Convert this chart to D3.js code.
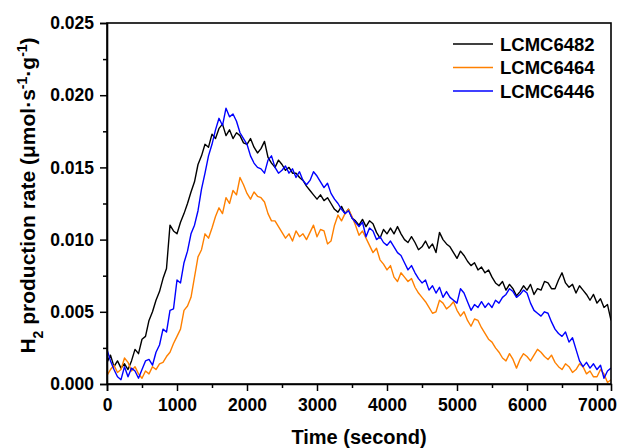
<!DOCTYPE html>
<html>
<head>
<meta charset="utf-8">
<script src="https://cdn.jsdelivr.net/npm/d3@7"></script>
<style>
  body { margin: 0; background: #fff; }
  text { font-family: "Liberation Sans", Arial, sans-serif; font-weight: bold; fill: #000; }
</style>
</head>
<body>
<div id="chart"></div>
<script>
/* sample times (s), one reading every 50 s */
const times = d3.range(0, 7201, 50);

const seriesNames = ["LCMC6482", "LCMC6464", "LCMC6446"];
const seriesColors = ["#000000", "#ff8000", "#0000ff"];

const lcmc6482 = [
  0.0015, 0.0020, 0.0012, 0.0016, 0.0011, 0.0014, 0.0010, 0.0016, 0.0024, 0.0021,
  0.0031, 0.0033, 0.0044, 0.0050, 0.0058, 0.0064, 0.0073, 0.0080, 0.0110, 0.0106,
  0.0104, 0.0112, 0.0118, 0.0125, 0.0133, 0.0140, 0.0152, 0.0158, 0.0166, 0.0164,
  0.0173, 0.0170, 0.0177, 0.0180, 0.0172, 0.0176, 0.0170, 0.0174, 0.0172, 0.0167,
  0.0166, 0.0170, 0.0164, 0.0160, 0.0163, 0.0168, 0.0157, 0.0153, 0.0150, 0.0155,
  0.0152, 0.0148, 0.0150, 0.0146, 0.0146, 0.0143, 0.0141, 0.0137, 0.0134, 0.0131,
  0.0128, 0.0131, 0.0127, 0.0129, 0.0125, 0.0121, 0.0119, 0.0123, 0.0118, 0.0121,
  0.0115, 0.0113, 0.0110, 0.0114, 0.0109, 0.0113, 0.0111, 0.0105, 0.0101, 0.0107,
  0.0104, 0.0108, 0.0104, 0.0109, 0.0104, 0.0100, 0.0098, 0.0102, 0.0098, 0.0093,
  0.0095, 0.0099, 0.0094, 0.0097, 0.0091, 0.0105, 0.0100, 0.0097, 0.0095, 0.0091,
  0.0087, 0.0092, 0.0089, 0.0085, 0.0082, 0.0084, 0.0079, 0.0081, 0.0077, 0.0079,
  0.0074, 0.0070, 0.0068, 0.0071, 0.0065, 0.0069, 0.0066, 0.0061, 0.0064, 0.0068,
  0.0065, 0.0069, 0.0062, 0.0066, 0.0065, 0.0071, 0.0070, 0.0066, 0.0066, 0.0072,
  0.0077, 0.0070, 0.0067, 0.0069, 0.0063, 0.0068, 0.0065, 0.0062, 0.0058, 0.0062,
  0.0056, 0.0059, 0.0053, 0.0055, 0.0044
];

const lcmc6464 = [
  0.0006, 0.0010, 0.0013, 0.0008, 0.0010, 0.0018, 0.0015, 0.0009, 0.0012, 0.0007,
  0.0004, 0.0009, 0.0007, 0.0012, 0.0010, 0.0014, 0.0015, 0.0019, 0.0022, 0.0028,
  0.0033, 0.0038, 0.0051, 0.0054, 0.0060, 0.0074, 0.0088, 0.0093, 0.0104, 0.0101,
  0.0108, 0.0116, 0.0122, 0.0118, 0.0129, 0.0125, 0.0134, 0.0131, 0.0143, 0.0138,
  0.0132, 0.0128, 0.0133, 0.0130, 0.0129, 0.0126, 0.0118, 0.0113, 0.0113, 0.0109,
  0.0105, 0.0101, 0.0104, 0.0099, 0.0106, 0.0102, 0.0104, 0.0100, 0.0105, 0.0110,
  0.0102, 0.0107, 0.0106, 0.0097, 0.0099, 0.0110, 0.0117, 0.0113, 0.0118, 0.0121,
  0.0116, 0.0110, 0.0103, 0.0106, 0.0101, 0.0096, 0.0091, 0.0094, 0.0086, 0.0083,
  0.0079, 0.0082, 0.0074, 0.0071, 0.0077, 0.0074, 0.0071, 0.0073, 0.0067, 0.0063,
  0.0060, 0.0057, 0.0053, 0.0049, 0.0050, 0.0058, 0.0056, 0.0052, 0.0054, 0.0057,
  0.0051, 0.0047, 0.0050, 0.0044, 0.0040, 0.0045, 0.0044, 0.0039, 0.0035, 0.0031,
  0.0029, 0.0025, 0.0022, 0.0018, 0.0016, 0.0021, 0.0017, 0.0011, 0.0017, 0.0021,
  0.0019, 0.0016, 0.0020, 0.0024, 0.0022, 0.0019, 0.0017, 0.0020, 0.0015, 0.0012,
  0.0010, 0.0014, 0.0012, 0.0008, 0.0010, 0.0014, 0.0012, 0.0007, 0.0009, 0.0005,
  0.0005, 0.0010, 0.0007, 0.0001, 0.0003
];

const lcmc6446 = [
  0.0024, 0.0016, 0.0010, 0.0005, 0.0003, 0.0012, 0.0005, 0.0011, 0.0009, 0.0004,
  0.0010, 0.0016, 0.0017, 0.0013, 0.0022, 0.0027, 0.0038, 0.0036, 0.0051, 0.0052,
  0.0072, 0.0070, 0.0084, 0.0092, 0.0104, 0.0110, 0.0120, 0.0135, 0.0146, 0.0158,
  0.0166, 0.0176, 0.0184, 0.0179, 0.0191, 0.0185, 0.0187, 0.0182, 0.0174, 0.0170,
  0.0166, 0.0158, 0.0153, 0.0150, 0.0149, 0.0146, 0.0155, 0.0158, 0.0150, 0.0146,
  0.0148, 0.0151, 0.0146, 0.0149, 0.0143, 0.0147, 0.0141, 0.0138, 0.0141, 0.0147,
  0.0144, 0.0140, 0.0136, 0.0139, 0.0132, 0.0128, 0.0125, 0.0121, 0.0118, 0.0120,
  0.0115, 0.0112, 0.0109, 0.0112, 0.0102, 0.0108, 0.0106, 0.0100, 0.0102, 0.0098,
  0.0096, 0.0099, 0.0095, 0.0091, 0.0089, 0.0084, 0.0079, 0.0082, 0.0077, 0.0073,
  0.0070, 0.0072, 0.0065, 0.0068, 0.0063, 0.0067, 0.0060, 0.0064, 0.0060, 0.0058,
  0.0056, 0.0066, 0.0063, 0.0057, 0.0051, 0.0055, 0.0053, 0.0057, 0.0053, 0.0056,
  0.0053, 0.0058, 0.0056, 0.0060, 0.0062, 0.0066, 0.0064, 0.0060, 0.0062, 0.0065,
  0.0063, 0.0056, 0.0051, 0.0049, 0.0047, 0.0050, 0.0049, 0.0043, 0.0038, 0.0035,
  0.0033, 0.0036, 0.0029, 0.0032, 0.0024, 0.0016, 0.0012, 0.0015, 0.0011, 0.0014,
  0.0010, 0.0013, 0.0004, 0.0009, 0.0011
];

const xTicks = [0, 1000, 2000, 3000, 4000, 5000, 6000, 7000];
const yTicks = [0, 0.005, 0.010, 0.015, 0.020, 0.025];

/* margins and plot size */
const margin = {top: 23, right: 7, bottom: 64, left: 107};
const width = 618 - margin.left - margin.right;
const height = 448 - margin.top - margin.bottom;

const svg = d3.select("#chart")
  .append("svg")
  .attr("width", 618)
  .attr("height", 448)
  .append("g")
    .attr("transform", `translate(${margin.left},${margin.top})`);

const xScale = d3.scaleLinear().domain([0, 7200]).range([0, width]);
const yScale = d3.scaleLinear().domain([0, 0.025]).range([height, 0]);

/* series lines */
const line = d3.line()
  .x((d, i) => xScale(times[i]))
  .y(d => yScale(d));

const allSeries = [lcmc6482, lcmc6464, lcmc6446];

svg.append("defs").append("clipPath").attr("id", "clip")
  .append("rect").attr("width", width).attr("height", height + 1);

svg.append("g").attr("clip-path", "url(#clip)")
  .selectAll("path")
  .data(allSeries)
  .join("path")
    .attr("d", line)
    .attr("fill", "none")
    .attr("stroke", (d, i) => seriesColors[i])
    .attr("stroke-width", 1.4)
    .attr("stroke-linejoin", "round");

/* frame */
svg.append("rect")
  .attr("width", width)
  .attr("height", height)
  .attr("fill", "none")
  .attr("stroke", "#000")
  .attr("stroke-width", 1.6);

/* x axis: major + minor ticks */
svg.append("g")
  .attr("transform", `translate(0,${height})`)
  .call(d3.axisBottom(xScale).tickValues(xTicks).tickFormat(d3.format("d")).tickSize(7).tickPadding(8));
svg.append("g")
  .attr("transform", `translate(0,${height})`)
  .call(d3.axisBottom(xScale).tickValues(xTicks.map(d => d + 500)).tickFormat("").tickSize(4))
  .call(g => g.select(".domain").remove());

/* y axis: major + minor ticks */
svg.append("g")
  .call(d3.axisLeft(yScale).tickValues(yTicks).tickFormat(d3.format(".3f")).tickSize(7).tickPadding(6));
svg.append("g")
  .call(d3.axisLeft(yScale).tickValues(yTicks.slice(0, -1).map(d => d + 0.0025)).tickFormat("").tickSize(4))
  .call(g => g.select(".domain").remove());

svg.selectAll(".tick line").attr("stroke", "#000").attr("stroke-width", 1.5);
svg.selectAll(".domain").attr("stroke", "#000").attr("stroke-width", 1.6);
svg.selectAll(".tick text")
  .style("font-size", "17.5px")
  .style("font-family", "'Liberation Sans', Arial, sans-serif")
  .style("font-weight", "bold")
  .attr("fill", "#000");

/* axis titles */
svg.append("text")
  .attr("x", width / 2)
  .attr("y", height + 60)
  .attr("text-anchor", "middle")
  .style("font-size", "20px")
  .text("Time (second)");

const yTitle = svg.append("text")
  .attr("transform", `translate(${-72},${height / 2 - 8}) rotate(-90)`)
  .attr("text-anchor", "middle")
  .style("font-size", "21px");
yTitle.append("tspan").text("H");
yTitle.append("tspan").attr("baseline-shift", "sub").style("font-size", "14px").text("2");
yTitle.append("tspan").text(" production rate (\u03bcmol\u00b7s");
yTitle.append("tspan").attr("baseline-shift", "super").style("font-size", "14px").text("-1");
yTitle.append("tspan").text("\u00b7g");
yTitle.append("tspan").attr("baseline-shift", "super").style("font-size", "14px").text("-1");
yTitle.append("tspan").text(")");

/* legend */
const legend = svg.append("g")
  .attr("transform", `translate(${453 - margin.left},${44 - margin.top})`);
const items = legend.selectAll("g")
  .data(seriesNames)
  .join("g")
    .attr("transform", (d, i) => `translate(0,${i * 23.5})`);
items.append("line")
  .attr("x1", 0).attr("x2", 40)
  .attr("stroke", (d, i) => seriesColors[i])
  .attr("stroke-width", 1.4);
items.append("text")
  .attr("x", 47)
  .attr("dy", "0.36em")
  .style("font-size", "18.5px")
  .text(d => d);
</script>
</body>
</html>
